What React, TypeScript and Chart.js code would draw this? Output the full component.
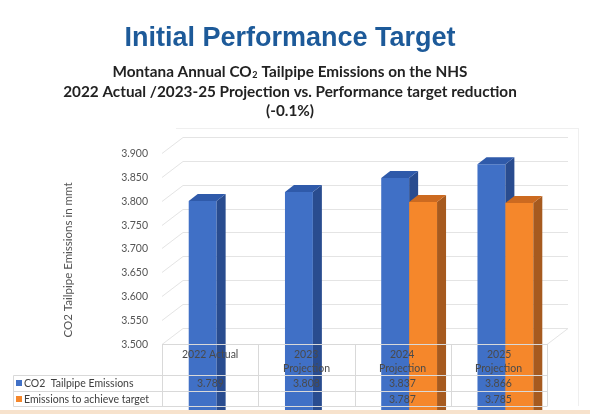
import React, { useEffect, useRef } from "react";
import { Chart, registerables } from "chart.js";

Chart.register(...registerables);

// ---------- data ----------
const categories: string[][] = [
  ["2022 Actual"],
  ["2023", "Projection"],
  ["2024", "Projection"],
  ["2025", "Projection"],
];
const seriesNames = ["CO2  Tailpipe Emissions", "Emissions to achieve target"];
const co2Emissions = [3.789, 3.808, 3.837, 3.866];
const targetEmissions: (number | null)[] = [null, null, 3.787, 3.785];
const yTickLabels = ["3.500", "3.550", "3.600", "3.650", "3.700", "3.750", "3.800", "3.850", "3.900"];
const yAxisTitle = "CO2 Tailpipe Emissions in mmt";
const titleText = "Initial Performance Target";
const subtitleLines = [
  "Montana Annual CO₂ Tailpipe Emissions on the NHS",
  "2022 Actual /2023-25 Projection vs. Performance target reduction",
  "(-0.1%)",
];

// ---------- styles ----------
const BLUE = { front: "#4070C6", side: "#294C8F", top: "#2F5AAA" };
const ORANGE = { front: "#F5872B", side: "#A65A1F", top: "#CC6A20" };
const seriesStyles = [BLUE, ORANGE];
const GRID = "#E4E4E4";
const TABLE_LINE = "#D9D9D9";
const TEXT_GRAY = "#555555";
const TABLE_TEXT = "#4A4A4A";
const FONT = "Lato, 'Open Sans', sans-serif";

const WALL_DX = 21;
const WALL_DY = -16;
const BAR_FRONT_FRAC = 0.31;
const BAR_DX = 9;
const BAR_DY = -7;

function line(ctx: CanvasRenderingContext2D, x1: number, y1: number, x2: number, y2: number) {
  ctx.beginPath();
  ctx.moveTo(x1, y1);
  ctx.lineTo(x2, y2);
  ctx.stroke();
}

function poly(ctx: CanvasRenderingContext2D, pts: number[][], color: string) {
  ctx.beginPath();
  ctx.moveTo(pts[0][0], pts[0][1]);
  for (let i = 1; i < pts.length; i++) ctx.lineTo(pts[i][0], pts[i][1]);
  ctx.closePath();
  ctx.fillStyle = color;
  ctx.fill();
}

function drawSubText(ctx: CanvasRenderingContext2D, text: string, cx: number, y: number, size: number, weight: string) {
  const parts = text.split("₂");
  const big = `${weight} ${size}px ${FONT}`;
  const small = `${weight} ${Math.round(size * 0.6)}px ${FONT}`;
  let total = 0;
  const widths: number[] = [];
  parts.forEach((p, i) => {
    ctx.font = big;
    const w = ctx.measureText(p).width;
    widths.push(w);
    total += w;
    if (i < parts.length - 1) {
      ctx.font = small;
      total += ctx.measureText("2").width + 1;
    }
  });
  let x = cx - total / 2;
  ctx.textAlign = "left";
  ctx.textBaseline = "alphabetic";
  parts.forEach((p, i) => {
    ctx.font = big;
    ctx.fillText(p, x, y);
    x += widths[i];
    if (i < parts.length - 1) {
      ctx.font = small;
      ctx.fillText("2", x + 0.5, y + 1);
      x += ctx.measureText("2").width + 1;
    }
  });
}

const threeDPlugin = {
  id: "threeD",
  beforeDraw(chart: any) {
    const { ctx, chartArea: a, scales } = chart;
    const y = scales.y;
    ctx.save();
    ctx.fillStyle = "#ffffff";
    ctx.fillRect(0, 0, chart.width, chart.height);

    ctx.strokeStyle = "#EFEFEF";
    ctx.lineWidth = 1;
    line(ctx, a.left + 14, 128.5, a.right + 31, 128.5);
    line(ctx, a.right + 31.5, 128, a.right + 31.5, 406);

    ctx.strokeStyle = GRID;
    yTickLabels.forEach((lab) => {
      const py = Math.round(y.getPixelForValue(parseFloat(lab))) + 0.5;
      line(ctx, a.left, py, a.left + WALL_DX, py + WALL_DY);
      line(ctx, a.left + WALL_DX, py + WALL_DY, a.right + WALL_DX, py + WALL_DY);
    });
    const pb = Math.round(y.getPixelForValue(parseFloat(yTickLabels[0]))) + 0.5;
    line(ctx, a.right, pb, a.right + WALL_DX, pb + WALL_DY);
    ctx.restore();
  },
  beforeDatasetsDraw(chart: any) {
    const { ctx } = chart;
    const sx = WALL_DX * BAR_FRONT_FRAC;
    const sy = WALL_DY * BAR_FRONT_FRAC;
    ctx.save();
    const n = chart.data.labels.length;
    for (let i = 0; i < n; i++) {
      chart.data.datasets.forEach((ds: any, di: number) => {
        const v = ds.data[i];
        if (v == null) return;
        const el = chart.getDatasetMeta(di).data[i];
        const st = seriesStyles[di];
        const L = el.x - el.width / 2 + sx;
        const R = el.x + el.width / 2 + sx;
        const T = el.y + sy;
        const B = el.base + sy;
        poly(ctx, [[L, T], [R, T], [R, B], [L, B]], st.front);
        poly(ctx, [[R, T], [R + BAR_DX, T + BAR_DY], [R + BAR_DX, B + BAR_DY], [R, B]], st.side);
        poly(ctx, [[L, T], [R, T], [R + BAR_DX, T + BAR_DY], [L + BAR_DX, T + BAR_DY]], st.top);
      });
    }
    ctx.restore();
    return false;
  },
  afterDraw(chart: any) {
    const { ctx, chartArea: a, scales } = chart;
    const x = scales.x;
    const y = scales.y;
    ctx.save();

    ctx.fillStyle = "#1D5A99";
    ctx.font = `bold 27px 'Liberation Sans', Arial, sans-serif`;
    ctx.textAlign = "center";
    ctx.textBaseline = "alphabetic";
    ctx.fillText(titleText, 290, 46);
    ctx.fillStyle = "#222222";
    const subBase = [77, 96.5, 116];
    subtitleLines.forEach((t, i) => drawSubText(ctx, t, 290, subBase[i], 15.3, "bold"));

    ctx.fillStyle = TEXT_GRAY;
    ctx.font = `10.5px ${FONT}`;
    ctx.textAlign = "right";
    ctx.textBaseline = "alphabetic";
    yTickLabels.forEach((lab) => {
      ctx.fillText(lab, a.left - 14, Math.round(y.getPixelForValue(parseFloat(lab))) + 4);
    });

    ctx.save();
    ctx.translate(72, 260);
    ctx.rotate(-Math.PI / 2);
    ctx.font = `11.5px ${FONT}`;
    ctx.textAlign = "center";
    ctx.fillText(yAxisTitle, 0, 0);
    ctx.restore();

    // data table
    const n = categories.length;
    const colW = (a.right - a.left) / n;
    const top = Math.round(a.bottom);
    const r1 = top + 31;
    const r2 = r1 + 16;
    const r3 = r2 + 15;
    const tableLeft = 13.5;
    ctx.strokeStyle = TABLE_LINE;
    ctx.lineWidth = 1;
    line(ctx, a.left, top + 0.5, a.right, top + 0.5);
    [r1, r2, r3].forEach((ry) => line(ctx, tableLeft, ry + 0.5, a.right, ry + 0.5));
    line(ctx, tableLeft, r1 + 0.5, tableLeft, r3 + 0.5);
    for (let i = 0; i <= n; i++) {
      const cx = Math.round(x.getPixelForValue(0) - colW / 2 + i * colW) + 0.5;
      line(ctx, cx, top, cx, r3 + 0.5);
    }

    ctx.font = `10.5px ${FONT}`;
    ctx.fillStyle = TABLE_TEXT;
    ctx.textAlign = "left";
    ctx.textBaseline = "alphabetic";
    const centerText = (t: string, cx: number, by: number) => {
      const w = ctx.measureText(t).width;
      ctx.fillText(t, Math.round(cx - w / 2), by);
    };
    categories.forEach((lines, i) => {
      const cx = x.getPixelForValue(i);
      lines.forEach((t, li) => centerText(t, cx, top + 14 + li * 14));
    });
    const rows = [co2Emissions, targetEmissions];
    const rowBase = [r1 + 12, r2 + 12];
    rows.forEach((vals, ri) => {
      vals.forEach((v, i) => {
        if (v == null) return;
        centerText(v.toFixed(3), x.getPixelForValue(i), rowBase[ri]);
      });
    });
    seriesNames.forEach((nm, ri) => {
      ctx.fillStyle = seriesStyles[ri].front;
      ctx.fillRect(16, rowBase[ri] - 7, 6, 6);
      ctx.fillStyle = "#404040";
      ctx.fillText(nm, 24, rowBase[ri]);
    });

    ctx.fillStyle = "#F7E2CC";
    ctx.fillRect(0, 410, chart.width, 4);
    ctx.restore();
  },
};

export default function App() {
  const ref = useRef<HTMLCanvasElement | null>(null);
  useEffect(() => {
    document.body.style.margin = "0";
    const canvas = ref.current;
    if (!canvas) return;
    const chart = new Chart(canvas, {
      type: "bar",
      data: {
        labels: categories.map((c) => c.join(" ")),
        datasets: [
          { label: seriesNames[0], data: co2Emissions, backgroundColor: BLUE.front },
          { label: seriesNames[1], data: targetEmissions as any, backgroundColor: ORANGE.front },
        ],
      },
      options: {
        responsive: false,
        animation: false,
        events: [],
        layout: { padding: { left: 162, right: 43, top: 153, bottom: 70 } },
        datasets: { bar: { categoryPercentage: 0.58, barPercentage: 1 } } as any,
        scales: {
          x: { display: false, offset: true },
          y: { display: false, min: 3.5, max: 3.9, ticks: { stepSize: 0.05 } },
        },
        plugins: { legend: { display: false }, tooltip: { enabled: false }, title: { display: false } },
      },
      plugins: [threeDPlugin as any],
    });
    return () => chart.destroy();
  }, []);
  return (
    <div style={{ width: 590, height: 414, position: "relative", background: "#fff" }}>
      <canvas ref={ref} width={590} height={414} style={{ display: "block" }} />
    </div>
  );
}
